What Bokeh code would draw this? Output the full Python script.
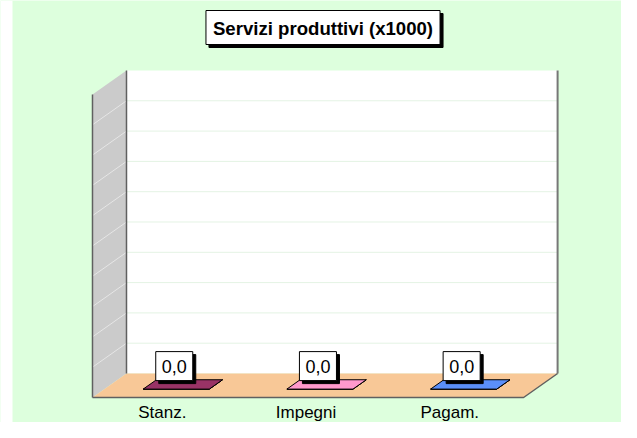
from bokeh.plotting import figure
from bokeh.models import Range1d, Label, ColumnDataSource, BoxAnnotation
from bokeh.core.properties import value
from bokeh.embed import file_html
from bokeh.resources import INLINE

# ---- data ----
categories = ["Stanz.", "Impegni", "Pagam."]
values = [0.0, 0.0, 0.0]
bar_colors = ["#993366", "#ff99cc", "#5b8ff9"]
title_text = "Servizi produttivi (x1000)"
grid_values = [1, 2, 3, 4, 5, 6, 7, 8, 9]
y_max = 10

# ---- layout constants ----
W, H = 621, 422
DX, DY = 0.2366, 0.792          # depth offset in data units
BW, D1, D2 = 0.46, 0.35, 0.74   # bar width and depth span
FONT = "Liberation Sans"
BG = "#ddffdd"

p = figure(width=W, height=H, x_range=Range1d(-1.1402, 3.1813),
           y_range=Range1d(-0.8251, 13.102), output_backend="svg",
           toolbar_location=None, x_axis_type=None, y_axis_type=None,
           min_border=0, background_fill_color=BG, border_fill_color=BG,
           outline_line_color=None)

p.add_layout(BoxAnnotation(left=0, right=12, left_units="screen", right_units="screen",
                           fill_color="white", fill_alpha=1, line_color=None, level="underlay"))

n = len(categories)
left, right = -0.5, n - 0.5

# back wall
p.quad(left=left + DX, right=right + DX, bottom=DY, top=y_max + DY,
       fill_color="white", line_color=None)
p.segment(x0=[left + DX] * len(grid_values), y0=[g + DY for g in grid_values],
          x1=[right + DX] * len(grid_values), y1=[g + DY for g in grid_values],
          line_color="#e4f3e4", line_width=1)

# side wall
p.patch([left, left, left + DX, left + DX], [0, y_max, y_max + DY, DY],
        fill_color="#cbcbcb", line_color=None)
p.segment(x0=[left] * len(grid_values), y0=grid_values,
          x1=[left + DX] * len(grid_values), y1=[g + DY for g in grid_values],
          line_color="#e6e6e6", line_width=1)

# floor
p.patch([left, right, right + DX, left + DX], [0, 0, DY, DY],
        fill_color="#f8c897", line_color=None)

# edges
edge = "#606060"
p.line([left, left], [0, y_max], line_color=edge, line_width=1.5)
p.line([left + DX, left + DX], [DY, y_max + DY], line_color=edge, line_width=1.5)
p.line([right + DX, right + DX], [DY, y_max + DY], line_color="#777777", line_width=2)
p.line([left, right, right + DX], [0, 0, DY], line_color=edge, line_width=1.5)

# bars (3D boxes)
top_xs, top_ys, front_xs, front_ys, side_xs, side_ys = [], [], [], [], [], []
for i, v in enumerate(values):
    xl, xr = i - BW / 2, i + BW / 2
    top_xs.append([xl + D1 * DX, xr + D1 * DX, xr + D2 * DX, xl + D2 * DX])
    top_ys.append([v + D1 * DY, v + D1 * DY, v + D2 * DY, v + D2 * DY])
    front_xs.append([xl + D1 * DX, xr + D1 * DX, xr + D1 * DX, xl + D1 * DX])
    front_ys.append([D1 * DY, D1 * DY, v + D1 * DY, v + D1 * DY])
    side_xs.append([xr + D1 * DX, xr + D2 * DX, xr + D2 * DX, xr + D1 * DX])
    side_ys.append([D1 * DY, D2 * DY, v + D2 * DY, v + D1 * DY])
p.patches(front_xs, front_ys, fill_color=bar_colors, line_color="black", line_width=1)
p.patches(side_xs, side_ys, fill_color=bar_colors, line_color="black", line_width=1)
p.patches(top_xs, top_ys, fill_color=bar_colors, line_color="black", line_width=1)

# value labels
lab_src = ColumnDataSource(dict(
    x=[i + D1 * DX for i in range(n)],
    y=[v + D1 * DY for v in values],
    t=[f"{v:.1f}".replace(".", ",") for v in values],
))
pad = dict(left=6, right=6, top=8, bottom=8)
p.text(x="x", y="y", text="t", source=lab_src, x_offset=1, y_offset=-20,
       text_font=value(FONT), text_font_size="18px", text_align="center",
       text_baseline="middle", text_color="black",
       background_fill_color="black", border_line_color="black", padding=pad)
p.text(x="x", y="y", text="t", source=lab_src, x_offset=-2, y_offset=-23,
       text_font=value(FONT), text_font_size="18px", text_align="center",
       text_baseline="middle", text_color="black",
       background_fill_color="white", border_line_color="black",
       border_line_width=1, padding=pad)

# category labels
cat_src = ColumnDataSource(dict(x=list(range(n)), y=[0] * n, t=categories))
p.text(x="x", y="y", text="t", source=cat_src, y_offset=15, x_offset=-2,
       text_font=value(FONT), text_font_size="17px", text_align="center",
       text_baseline="middle", text_color="black")

# title box
tpad = dict(left=7, right=7, top=7, bottom=6)
p.add_layout(Label(x=325.5, y=392, x_units="screen", y_units="screen",
                   text=title_text, text_font=FONT, text_font_size="18.6px",
                   text_font_style="bold", text_align="center",
                   text_baseline="middle", text_color="black",
                   background_fill_color="black", border_line_color="black",
                   padding=tpad))
p.add_layout(Label(x=322.5, y=395, x_units="screen", y_units="screen",
                   text=title_text, text_font=FONT, text_font_size="18.6px",
                   text_font_style="bold", text_align="center",
                   text_baseline="middle", text_color="black",
                   background_fill_color="white", border_line_color="black",
                   padding=tpad))

html = file_html(p, INLINE)
html = html.replace("<body>", '<body style="background: %s;">' % BG, 1)
open("out.html", "w").write(html)
